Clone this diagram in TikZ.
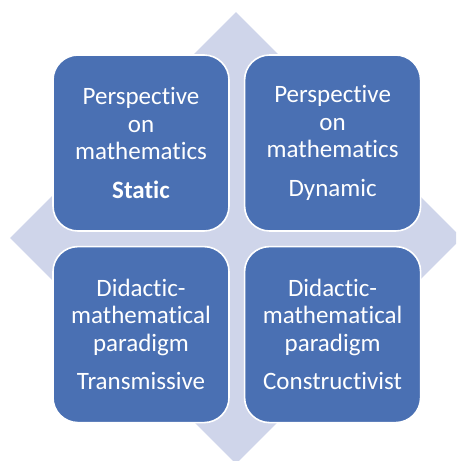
\documentclass[tikz,border=0pt]{standalone}
\usepackage{fontspec}
\setmainfont{Carlito}[RawFeature=-liga]
\usetikzlibrary{positioning,shapes.geometric}
\definecolor{qdBlue}{HTML}{4A70B3}
\definecolor{qdBlueLight}{HTML}{CFD5EA}

\begin{document}
\begin{tikzpicture}[
  x=1pt,y=-1pt,
  node distance=14pt and 14pt,
  quad/.style={
    draw=white,
    line width=1.6pt,
    rounded corners=25pt,
    fill=qdBlue,
    text=white,
    minimum width=176pt,
    minimum height=176pt,
    text width=160pt,
    align=center,
    inner sep=0pt,
    font=\fontsize{25}{27.5}\selectfont
  },
  backdrop/.style={
    diamond,
    fill=qdBlueLight,
    inner sep=0pt,
    minimum width=452pt,
    minimum height=452pt
  }
]
  \useasboundingbox (0,0) rectangle (456,461);
  \clip (0,0) rectangle (456,461);

  \node[backdrop] (bg) at (236,238) {};

  \node[quad] (static) at (141,143)
    {Perspective\\on\\mathematics\\[11pt]\textbf{Static}};
  \node[quad,right=of static] (dynamic)
    {Perspective\\on\\mathematics\\[11pt]Dynamic};
  \node[quad,below=of static] (transm)
    {Didactic-\\mathematical\\paradigm\\[11pt]Transmissive};
  \node[quad,right=of transm] (constr)
    {Didactic-\\mathematical\\paradigm\\[11pt]Constructivist};
\end{tikzpicture}
\end{document}
